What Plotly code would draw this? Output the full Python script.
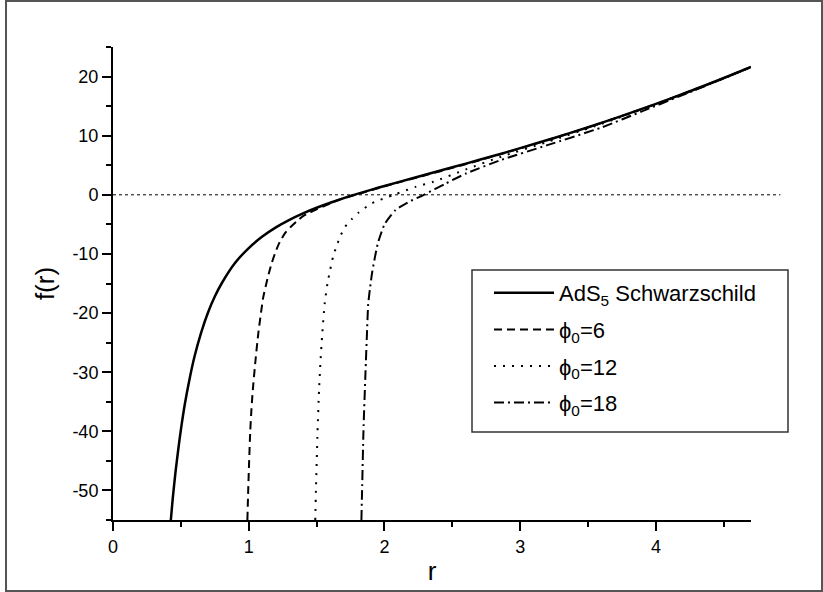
import plotly.graph_objects as go

# ---- data ----
r_ads = [0.426, 0.44, 0.46, 0.48, 0.5, 0.53, 0.56, 0.6, 0.65, 0.7, 0.75, 0.8, 0.9, 1.0, 1.1,
         1.2, 1.3, 1.4, 1.5, 1.6, 1.7, 1.8, 1.9, 2.0, 2.2, 2.4, 2.6, 2.8, 3.0, 3.25, 3.5, 3.75,
         4.0, 4.25, 4.5, 4.7]
f_ads = [-55.0, -51.4, -47.0, -43.2, -39.75, -35.3, -31.6, -27.4, -23.25, -19.9, -17.2, -15.0,
         -11.5, -9.0, -7.05, -5.5, -4.23, -3.14, -2.19, -1.35, -0.57, 0.15, 0.84, 1.5, 2.77,
         4.02, 5.28, 6.56, 7.89, 9.62, 11.43, 13.35, 15.375, 17.51, 19.76, 21.64]

r_phi6 = [0.99, 0.996, 1.003, 1.011, 1.02, 1.03, 1.048, 1.07, 1.09, 1.107, 1.14, 1.17, 1.2, 1.23,
          1.27, 1.32, 1.36, 1.40, 1.45, 1.5, 1.6, 1.7, 1.8, 2.0, 2.5, 3.0, 3.5, 4.0, 4.5, 4.7]
f_phi6 = [-55.0, -50.0, -45.0, -40.0, -36.2, -33.0, -28.4, -23.5, -20.0, -17.3, -14.0, -11.5,
          -9.5, -7.9, -6.4, -5.2, -4.35, -3.6, -3.0, -2.45, -1.45, -0.55, 0.1, 1.45, 4.55, 7.85,
          11.4, 15.35, 19.75, 21.62]

r_phi12 = [1.49, 1.495, 1.507, 1.518, 1.528, 1.54, 1.56, 1.58, 1.60, 1.62, 1.645, 1.675, 1.71,
           1.76, 1.81, 1.91, 2.07, 2.23, 2.36, 2.6, 2.86, 3.2, 3.6, 4.0, 4.4, 4.7]
f_phi12 = [-55.0, -50.0, -40.0, -33.0, -28.4, -24.0, -18.3, -15.0, -12.7, -10.6, -8.8, -7.0,
           -5.4, -4.1, -3.0, -1.4, 0.0, 1.35, 2.2, 4.3, 6.45, 8.95, 12.0, 15.3, 18.8, 21.6]

r_phi18 = [1.83, 1.835, 1.845, 1.86, 1.87, 1.88, 1.895, 1.91, 1.93, 1.95, 1.975, 2.0, 2.04, 2.08,
           2.17, 2.29, 2.45, 2.6, 2.86, 3.2, 3.6, 3.9, 4.2, 4.5, 4.7]
f_phi18 = [-55.0, -50.0, -40.0, -30.0, -24.0, -18.5, -15.5, -13.0, -10.5, -8.3, -6.5, -5.0, -3.7,
           -2.6, -1.3, 0.0, 1.9, 3.6, 5.9, 8.4, 11.4, 14.15, 16.9, 19.7, 21.6]

names = ["AdS<sub>5</sub> Schwarzschild", "ϕ<sub>0</sub>=6", "ϕ<sub>0</sub>=12", "ϕ<sub>0</sub>=18"]
x_range = [0, 4.7]
y_range = [-55, 25]
x_ticks = [0, 1, 2, 3, 4]
y_ticks = [-50, -40, -30, -20, -10, 0, 10, 20]
y_ticktext = ["-50", "-40", "-30", "-20", "-10", "0", "10", "20"]

FONT = "Liberation Sans, Arial, sans-serif"

fig = go.Figure()
series = [(r_ads, f_ads, "solid", 2.5), (r_phi6, f_phi6, "8px,5px", 2),
          (r_phi12, f_phi12, "2px,7px", 2), (r_phi18, f_phi18, "10px,4px,2px,4px", 2)]
for i, ((xs, ys, dash, w), nm) in enumerate(zip(series, names)):
    fig.add_trace(go.Scatter(x=xs, y=ys, mode="lines", name=nm, legendgroup=f"g{i}",
                             line=dict(color="black", width=w, dash=dash,
                                       shape="spline", smoothing=0.6)))

axis_common = dict(showline=True, linewidth=2, linecolor="black", ticks="outside",
                   ticklen=9, tickwidth=2, tickcolor="black", showgrid=False, zeroline=False,
                   tickfont=dict(family=FONT, size=18, color="black"),
                   mirror=False)

fig.update_xaxes(range=x_range, tickvals=x_ticks,
                 minor=dict(dtick=0.5, tick0=0, ticklen=5, tickwidth=2, tickcolor="black",
                            ticks="outside"),
                 title=dict(text="r", font=dict(family=FONT, size=26, color="black"), standoff=6),
                 **axis_common)
fig.update_yaxes(range=y_range, tickvals=y_ticks, ticktext=y_ticktext,
                 minor=dict(dtick=5, tick0=0, ticklen=5, tickwidth=2, tickcolor="black",
                            ticks="outside"),
                 title=dict(text="f(r)", font=dict(family=FONT, size=26, color="black"), standoff=10),
                 **axis_common)

# dotted zero line extending slightly past the axis end
fig.add_shape(type="line", xref="paper", yref="y", x0=0, x1=1.046, y0=0, y1=0,
              line=dict(color="black", width=1, dash="dot"))

# legend box
fig.add_shape(type="rect", xref="paper", yref="paper", layer="above",
              x0=(472 - 113) / 638, x1=(788 - 113) / 638,
              y0=(520 - 432) / 473, y1=(520 - 270) / 473,
              fillcolor="white", line=dict(color="#333333", width=1.5))

# outer frame
fig.add_shape(type="rect", xref="paper", yref="paper",
              x0=-0.1677, x1=1.1113, y0=-0.150, y1=1.0973,
              line=dict(color="#555555", width=2))

fig.update_layout(
    width=823, height=592,
    margin=dict(l=113, r=72, t=47, b=72),
    paper_bgcolor="white", plot_bgcolor="white",
    font=dict(family=FONT, color="black"),
    showlegend=True,
    legend=dict(x=(489 - 113) / 638, y=(520 - 272) / 473, xanchor="left", yanchor="top",
                bgcolor="rgba(0,0,0,0)", borderwidth=0,
                font=dict(family=FONT, size=22, color="black"),
                itemwidth=60, tracegroupgap=5),
)

fig.write_html("out.html")
